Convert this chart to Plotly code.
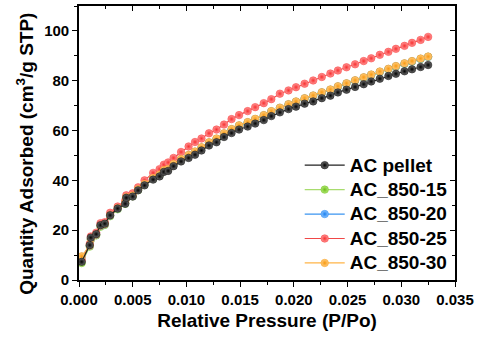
import plotly.graph_objects as go

pressure = [0.00025, 0.0010, 0.0011, 0.0016, 0.0020, 0.0024, 0.0029, 0.0036, 0.0043, 0.0044,
            0.0050, 0.0055, 0.0061, 0.0069, 0.0075, 0.0079, 0.0083, 0.0088, 0.0095, 0.0102,
            0.0108, 0.0114, 0.0121, 0.0128, 0.0135, 0.0142, 0.0149, 0.0157, 0.0164, 0.0172,
            0.0179, 0.0187, 0.0195, 0.0202, 0.0210, 0.0218, 0.0226, 0.0234, 0.0241, 0.0249,
            0.0257, 0.0265, 0.0272, 0.0280, 0.0288, 0.0295, 0.0303, 0.0310, 0.0318, 0.0325]

ac_pellet = [7.3, 14.0, 17.0, 18.4, 22.0, 22.6, 26.0, 28.7, 30.6, 33.0,
             33.5, 36.0, 38.0, 40.3, 41.6, 43.4, 43.8, 45.7, 47.6, 49.0,
             50.3, 52.0, 54.0, 55.3, 57.4, 59.0, 60.4, 61.6, 62.8, 64.2,
             65.8, 67.3, 68.6, 69.6, 70.8, 71.7, 73.0, 74.0, 75.3, 76.4,
             77.5, 78.6, 79.7, 80.8, 81.9, 82.8, 83.8, 84.6, 85.5, 86.3]

ac_850_15 = [6.8, 13.4, 16.2, 17.9, 21.4, 22.1, 25.6, 28.4, 30.6, 32.8,
             33.6, 36.1, 38.2, 40.6, 42.0, 43.8, 44.4, 46.4, 48.4, 50.0,
             51.4, 53.1, 55.1, 56.6, 58.7, 60.4, 61.9, 63.2, 64.5, 66.0,
             67.6, 69.0, 70.4, 71.5, 72.8, 73.9, 75.2, 76.3, 77.6, 78.8,
             80.0, 81.2, 82.3, 83.5, 84.6, 85.7, 86.8, 87.7, 88.7, 89.6]

ac_850_20 = [9.3, 13.7, 16.5, 18.1, 21.7, 22.3, 25.9, 28.7, 30.9, 33.1,
             33.8, 36.3, 38.4, 40.8, 42.2, 44.0, 44.5, 46.5, 48.5, 50.1,
             51.5, 53.2, 55.2, 56.7, 58.8, 60.5, 62.0, 63.3, 64.6, 66.1,
             67.7, 69.1, 70.5, 71.6, 72.9, 74.0, 75.3, 76.4, 77.7, 78.9,
             80.1, 81.3, 82.4, 83.6, 84.7, 85.8, 86.9, 87.8, 88.8, 89.6]

ac_850_25 = [8.0, 14.5, 17.5, 19.0, 22.8, 23.2, 27.0, 29.5, 31.8, 34.0,
             34.8, 37.2, 40.0, 43.0, 44.5, 46.3, 47.2, 49.0, 51.4, 53.6,
             55.4, 56.8, 58.9, 60.4, 62.4, 64.6, 66.2, 67.8, 69.4, 71.0,
             72.6, 74.8, 76.1, 77.4, 78.8, 80.1, 81.5, 82.9, 84.1, 85.4,
             86.6, 87.9, 89.0, 90.4, 91.6, 92.8, 94.0, 95.2, 96.4, 97.6]

ac_850_30 = [9.5, 13.8, 16.6, 18.2, 21.8, 22.4, 26.0, 28.8, 31.0, 33.2,
             33.9, 36.4, 38.5, 40.9, 42.3, 44.1, 44.6, 46.6, 48.6, 50.2,
             51.6, 53.3, 55.3, 56.8, 58.9, 60.6, 62.1, 63.4, 64.7, 66.2,
             67.8, 69.2, 70.6, 71.7, 73.0, 74.1, 75.4, 76.5, 77.8, 79.0,
             80.2, 81.4, 82.5, 83.7, 84.8, 85.9, 87.0, 87.9, 88.9, 89.7]

x_ticks = [0.000, 0.005, 0.010, 0.015, 0.020, 0.025, 0.030, 0.035]
x_tick_labels = ["0.000", "0.005", "0.010", "0.015", "0.020", "0.025", "0.030", "0.035"]
y_ticks = [0, 20, 40, 60, 80, 100]
y_tick_labels = ["0", "20", "40", "60", "80", "100"]

x_title = "Relative Pressure (P/Po)"
y_title = "Quantity Adsorbed (cm<sup>3</sup>/g STP)"

# (name, values, marker centre colour, marker edge colour, line colour, legend rank) -- drawn in this order
series = [
    ("AC_850-15", ac_850_15, "#B4E67A", "#6CC016", "#A8DC6E", 2),
    ("AC_850-20", ac_850_20, "#8CC4FF", "#1A80F0", "#3A94F0", 3),
    ("AC_850-25", ac_850_25, "#FF9A9A", "#F83030", "#F04848", 4),
    ("AC_850-30", ac_850_30, "#FFCC80", "#F89A10", "#FFB447", 5),
    ("AC pellet", ac_pellet, "#707070", "#000000", "#222222", 1),
]

FONT = "Liberation Sans"

fig = go.Figure()
for name, vals, ccol, ecol, lcol, rank in series:
    fig.add_trace(go.Scatter(
        x=pressure, y=vals,
        name="<span style='font-size:19px'>" + name + "</span>",
        mode="lines+markers",
        line=dict(color=lcol, width=1.2),
        marker=dict(symbol="circle", size=7.5, color=ccol,
                    gradient=dict(type="radial", color=ecol),
                    line=dict(color=ecol, width=0.5)),
        legendrank=rank,
    ))

# invisible trace to activate mirrored (inside-tick) axes
fig.add_trace(go.Scatter(x=[None], y=[None], xaxis="x2", yaxis="y2",
                         showlegend=False, hoverinfo="skip"))

axis_common = dict(showgrid=False, zeroline=False, linecolor="black", linewidth=1.6,
                   tickcolor="black", tickwidth=1.4, ticklen=5,
                   tickfont=dict(family=FONT, size=15, color="black", weight="bold"))

fig.update_layout(
    width=482, height=341,
    margin=dict(l=79, r=27, t=4, b=61),
    paper_bgcolor="white", plot_bgcolor="white",
    showlegend=True,
    legend=dict(x=0.587, y=0.482, xanchor="left", yanchor="top",
                bgcolor="rgba(0,0,0,0)", borderwidth=0,
                font=dict(family=FONT, size=16.5, color="black", weight="bold"),
                itemwidth=40, tracegroupgap=0),
    xaxis=dict(range=[0, 0.035], tickmode="array", tickvals=x_ticks, ticktext=x_tick_labels,
               ticks="outside", mirror=True, showline=True,
               minor=dict(ticks="outside", dtick=0.0025, ticklen=3, tickcolor="black", tickwidth=1.2),
               title=dict(text=x_title, standoff=7,
                          font=dict(family=FONT, size=19, color="black", weight="bold")),
               **axis_common),
    yaxis=dict(range=[0, 110], tickmode="array", tickvals=y_ticks, ticktext=y_tick_labels,
               ticks="outside", mirror=True, showline=True,
               minor=dict(ticks="outside", dtick=10, ticklen=3, tickcolor="black", tickwidth=1.2),
               **axis_common),
    xaxis2=dict(range=[0, 0.035], overlaying="x", side="top", anchor="y2",
                tickmode="array", tickvals=x_ticks, ticks="inside", ticklen=5,
                tickcolor="black", tickwidth=1.4, showticklabels=False, showgrid=False,
                zeroline=False, showline=False,
                minor=dict(ticks="inside", dtick=0.0025, ticklen=3, tickcolor="black", tickwidth=1.2)),
    yaxis2=dict(range=[0, 110], overlaying="y", side="right", anchor="x2",
                tickmode="array", tickvals=y_ticks, ticks="inside", ticklen=5,
                tickcolor="black", tickwidth=1.4, showticklabels=False, showgrid=False,
                zeroline=False, showline=False,
                minor=dict(ticks="inside", dtick=10, ticklen=3, tickcolor="black", tickwidth=1.2)),
)

fig.add_annotation(text=y_title, textangle=-90, showarrow=False,
                   xref="paper", yref="paper", x=-0.144, y=0.46,
                   xanchor="center", yanchor="middle",
                   font=dict(family=FONT, size=19, color="black", weight="bold"))

fig.write_html("out.html", config={"displayModeBar": False},
               post_script="document.body.style.margin='0px';")
